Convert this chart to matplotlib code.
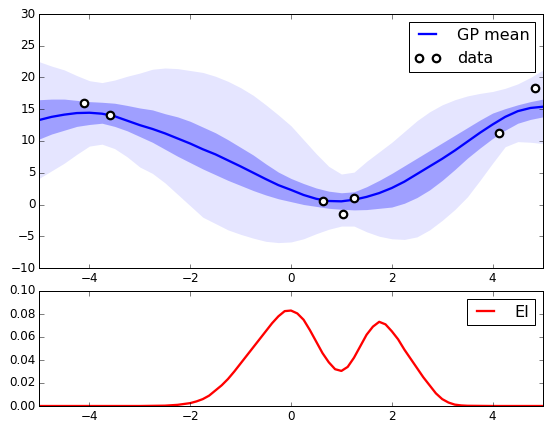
import numpy as np
import matplotlib
matplotlib.use("Agg")
import matplotlib.pyplot as plt

plt.style.use("classic")

# sample positions along the x axis (top panel)
x = [-5.0, -4.75, -4.5, -4.25, -4.0, -3.75, -3.5, -3.25, -3.0, -2.75,
     -2.5, -2.25, -2.0, -1.75, -1.5, -1.25, -1.0, -0.75, -0.5, -0.25,
     0.0, 0.25, 0.5, 0.75, 1.0, 1.25, 1.5, 1.75, 2.0, 2.25,
     2.5, 2.75, 3.0, 3.25, 3.5, 3.75, 4.0, 4.25, 4.5, 4.75, 5.0]

gp_mean = [13.3, 13.8, 14.15, 14.4, 14.45, 14.3, 13.9, 13.2, 12.5, 11.9,
           11.2, 10.4, 9.6, 8.7, 7.9, 6.95, 6.0, 5.0, 4.0, 3.05,
           2.3, 1.5, 0.9, 0.55, 0.5, 0.75, 1.2, 1.8, 2.6, 3.6,
           4.8, 6.0, 7.2, 8.5, 9.9, 11.3, 12.6, 13.8, 14.7, 15.2, 15.4]

inner_hi = [16.5, 16.6, 16.6, 16.4, 16.2, 16.1, 15.95, 15.6, 15.2, 14.9,
            14.3, 13.8, 13.1, 12.2, 11.3, 10.2, 9.0, 7.8, 6.4, 5.1,
            4.1, 3.3, 2.6, 2.1, 1.85, 2.0, 2.8, 3.8, 4.9, 6.1,
            7.3, 8.5, 9.7, 10.9, 12.1, 13.3, 14.4, 15.1, 15.7, 16.2, 16.6]

inner_lo = [10.3, 11.1, 11.7, 12.3, 12.6, 12.8, 12.3, 11.6, 10.7, 9.8,
            8.7, 7.6, 6.6, 5.6, 4.7, 3.8, 3.0, 2.2, 1.5, 0.9,
            0.45, 0.0, -0.3, -0.6, -0.75, -0.85, -0.8, -0.6, -0.4, 0.2,
            1.1, 2.3, 3.8, 5.5, 7.3, 8.9, 10.4, 11.7, 12.8, 13.4, 13.8]

outer_hi = [22.5, 21.8, 21.2, 20.3, 19.5, 19.2, 19.6, 20.2, 20.7, 21.3,
            21.5, 21.4, 21.1, 20.8, 20.2, 19.4, 18.4, 17.2, 15.7, 14.1,
            12.4, 10.2, 8.0, 6.0, 4.8, 5.1, 6.8, 8.3, 9.8, 11.5,
            13.2, 14.6, 15.7, 16.5, 17.1, 17.5, 17.8, 18.3, 19.0, 20.0, 21.2]

outer_lo = [4.1, 5.3, 6.5, 7.9, 9.2, 9.5, 8.8, 7.5, 5.9, 4.9,
            3.4, 1.6, -0.2, -2.0, -3.0, -4.0, -4.7, -5.3, -5.8, -6.0,
            -5.9, -5.4, -4.6, -3.9, -3.4, -3.4, -4.3, -5.0, -5.4, -5.5,
            -5.1, -4.0, -2.5, -0.8, 1.2, 3.8, 6.5, 9.1, 9.9, 9.8, 9.6]

data_x = [-4.11, -3.60, 0.63, 1.03, 1.25, 4.13, 4.84]
data_y = [16.0, 14.1, 0.5, -1.5, 1.0, 11.2, 18.4]

# expected improvement (bottom panel)
ei_x = [-5.0, -4.0, -3.0, -2.5, -2.25, -2.0, -1.875, -1.75, -1.625, -1.5,
        -1.375, -1.25, -1.125, -1.0, -0.875, -0.75, -0.625, -0.5, -0.375, -0.25,
        -0.125, 0.0, 0.125, 0.25, 0.375, 0.5, 0.625, 0.75, 0.875, 1.0,
        1.125, 1.25, 1.375, 1.5, 1.625, 1.75, 1.875, 2.0, 2.125, 2.25,
        2.375, 2.5, 2.625, 2.75, 2.875, 3.0, 3.125, 3.25, 3.375, 3.5,
        4.0, 5.0]
ei = [0.0, 0.0, 0.0, 0.0003, 0.001, 0.0025, 0.004, 0.006, 0.009, 0.0135,
      0.018, 0.0235, 0.030, 0.037, 0.044, 0.051, 0.058, 0.065, 0.072, 0.078,
      0.0825, 0.0830, 0.0805, 0.075, 0.066, 0.056, 0.046, 0.038, 0.032, 0.0305,
      0.034, 0.042, 0.052, 0.062, 0.069, 0.0732, 0.071, 0.065, 0.058, 0.049,
      0.041, 0.033, 0.025, 0.018, 0.011, 0.006, 0.003, 0.0012, 0.0005, 0.0002,
      0.0, 0.0]

W, H = 545, 422
fig = plt.figure(figsize=(W / 72.0, H / 72.0), dpi=72, facecolor="white")

ax1 = fig.add_axes([39 / W, (H - 268) / H, (543 - 39) / W, (268 - 14) / H])
ax2 = fig.add_axes([39 / W, (H - 406) / H, (543 - 39) / W, (406 - 291) / H])

ax1.fill_between(x, outer_lo, outer_hi, color="b", alpha=0.1, linewidth=0)
ax1.fill_between(x, inner_lo, inner_hi, color="b", alpha=0.3, linewidth=0)
ax1.plot(x, gp_mean, color="b", linewidth=2.3, label="GP mean")
ax1.plot(data_x, data_y, "o", markerfacecolor="white", markeredgecolor="black",
         markeredgewidth=2.2, markersize=7.5, label="data")
ax1.set_xlim(-5, 5)
ax1.set_ylim(-10, 30)
ax1.set_yticks([-10, -5, 0, 5, 10, 15, 20, 25, 30])
ax1.set_xticks([-4, -2, 0, 2, 4])

leg_kw = dict(loc="upper right", fontsize=16, borderpad=0.35, labelspacing=0.55,
              handlelength=1.65, handletextpad=1.0, borderaxespad=0.5)
ax1.legend(numpoints=2, **leg_kw)

ax2.plot(ei_x, ei, color="r", linewidth=2.3, label="EI")
ax2.set_xlim(-5, 5)
ax2.set_ylim(0, 0.10)
ax2.set_yticks([0.0, 0.02, 0.04, 0.06, 0.08, 0.10])
ax2.set_yticklabels(["0.00", "0.02", "0.04", "0.06", "0.08", "0.10"])
ax2.set_xticks([-4, -2, 0, 2, 4])
ax2.legend(**leg_kw)

for ax in (ax1, ax2):
    ax.tick_params(labelsize=12, pad=3.5, length=4.5)

fig.savefig("out.png", dpi=72, facecolor="white")
